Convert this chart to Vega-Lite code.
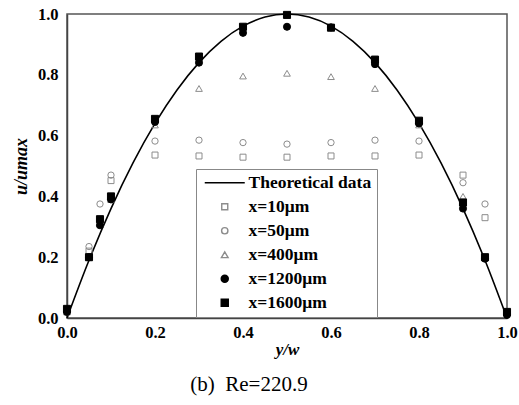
{
  "$schema": "https://vega.github.io/schema/vega-lite/v6.json",
  "width": 440,
  "height": 304,
  "autosize": {"type": "none"},
  "padding": {"left": 67, "top": 14, "right": 12, "bottom": 87},
  "background": "white",
  "config": {
    "view": {"stroke": "#555", "strokeWidth": 1.5},
    "font": "Liberation Serif"
  },
  "title": {
    "text": "(b)\u00a0\u00a0Re=220.9",
    "orient": "bottom",
    "font": "Liberation Serif",
    "fontSize": 21,
    "fontWeight": "normal",
    "color": "black",
    "offset": 16,
    "anchor": "middle",
    "dx": -38
  },
  "data": {
    "values": [
      {"series": "Theoretical data", "x": 0.0, "y": 0.0},
      {"series": "Theoretical data", "x": 0.05, "y": 0.19},
      {"series": "Theoretical data", "x": 0.1, "y": 0.36},
      {"series": "Theoretical data", "x": 0.15, "y": 0.51},
      {"series": "Theoretical data", "x": 0.2, "y": 0.64},
      {"series": "Theoretical data", "x": 0.25, "y": 0.75},
      {"series": "Theoretical data", "x": 0.3, "y": 0.84},
      {"series": "Theoretical data", "x": 0.35, "y": 0.91},
      {"series": "Theoretical data", "x": 0.4, "y": 0.96},
      {"series": "Theoretical data", "x": 0.45, "y": 0.99},
      {"series": "Theoretical data", "x": 0.5, "y": 1.0},
      {"series": "Theoretical data", "x": 0.55, "y": 0.99},
      {"series": "Theoretical data", "x": 0.6, "y": 0.96},
      {"series": "Theoretical data", "x": 0.65, "y": 0.91},
      {"series": "Theoretical data", "x": 0.7, "y": 0.84},
      {"series": "Theoretical data", "x": 0.75, "y": 0.75},
      {"series": "Theoretical data", "x": 0.8, "y": 0.64},
      {"series": "Theoretical data", "x": 0.85, "y": 0.51},
      {"series": "Theoretical data", "x": 0.9, "y": 0.36},
      {"series": "Theoretical data", "x": 0.95, "y": 0.19},
      {"series": "Theoretical data", "x": 1.0, "y": 0.0},

      {"series": "x=10μm", "x": 0.0, "y": 0.02},
      {"series": "x=10μm", "x": 0.05, "y": 0.22},
      {"series": "x=10μm", "x": 0.075, "y": 0.32},
      {"series": "x=10μm", "x": 0.1, "y": 0.452},
      {"series": "x=10μm", "x": 0.2, "y": 0.536},
      {"series": "x=10μm", "x": 0.3, "y": 0.533},
      {"series": "x=10μm", "x": 0.4, "y": 0.529},
      {"series": "x=10μm", "x": 0.5, "y": 0.529},
      {"series": "x=10μm", "x": 0.6, "y": 0.533},
      {"series": "x=10μm", "x": 0.7, "y": 0.533},
      {"series": "x=10μm", "x": 0.8, "y": 0.536},
      {"series": "x=10μm", "x": 0.9, "y": 0.47},
      {"series": "x=10μm", "x": 0.95, "y": 0.33},
      {"series": "x=10μm", "x": 1.0, "y": 0.02},

      {"series": "x=50μm", "x": 0.0, "y": 0.02},
      {"series": "x=50μm", "x": 0.05, "y": 0.235},
      {"series": "x=50μm", "x": 0.075, "y": 0.375},
      {"series": "x=50μm", "x": 0.1, "y": 0.47},
      {"series": "x=50μm", "x": 0.2, "y": 0.582},
      {"series": "x=50μm", "x": 0.3, "y": 0.585},
      {"series": "x=50μm", "x": 0.4, "y": 0.577},
      {"series": "x=50μm", "x": 0.5, "y": 0.572},
      {"series": "x=50μm", "x": 0.6, "y": 0.577},
      {"series": "x=50μm", "x": 0.7, "y": 0.585},
      {"series": "x=50μm", "x": 0.8, "y": 0.582},
      {"series": "x=50μm", "x": 0.9, "y": 0.445},
      {"series": "x=50μm", "x": 0.95, "y": 0.375},
      {"series": "x=50μm", "x": 1.0, "y": 0.02},

      {"series": "x=400μm", "x": 0.0, "y": 0.02},
      {"series": "x=400μm", "x": 0.05, "y": 0.2},
      {"series": "x=400μm", "x": 0.075, "y": 0.31},
      {"series": "x=400μm", "x": 0.1, "y": 0.39},
      {"series": "x=400μm", "x": 0.2, "y": 0.635},
      {"series": "x=400μm", "x": 0.3, "y": 0.755},
      {"series": "x=400μm", "x": 0.4, "y": 0.796},
      {"series": "x=400μm", "x": 0.5, "y": 0.805},
      {"series": "x=400μm", "x": 0.6, "y": 0.794},
      {"series": "x=400μm", "x": 0.7, "y": 0.755},
      {"series": "x=400μm", "x": 0.8, "y": 0.635},
      {"series": "x=400μm", "x": 0.9, "y": 0.4},
      {"series": "x=400μm", "x": 0.95, "y": 0.2},
      {"series": "x=400μm", "x": 1.0, "y": 0.02},

      {"series": "x=1200μm", "x": 0.0, "y": 0.02},
      {"series": "x=1200μm", "x": 0.05, "y": 0.2},
      {"series": "x=1200μm", "x": 0.075, "y": 0.305},
      {"series": "x=1200μm", "x": 0.1, "y": 0.39},
      {"series": "x=1200μm", "x": 0.2, "y": 0.645},
      {"series": "x=1200μm", "x": 0.3, "y": 0.84},
      {"series": "x=1200μm", "x": 0.4, "y": 0.938},
      {"series": "x=1200μm", "x": 0.5, "y": 0.958},
      {"series": "x=1200μm", "x": 0.6, "y": 0.956},
      {"series": "x=1200μm", "x": 0.7, "y": 0.835},
      {"series": "x=1200μm", "x": 0.8, "y": 0.64},
      {"series": "x=1200μm", "x": 0.9, "y": 0.36},
      {"series": "x=1200μm", "x": 0.95, "y": 0.195},
      {"series": "x=1200μm", "x": 1.0, "y": 0.01},

      {"series": "x=1600μm", "x": 0.0, "y": 0.03},
      {"series": "x=1600μm", "x": 0.05, "y": 0.2},
      {"series": "x=1600μm", "x": 0.075, "y": 0.325},
      {"series": "x=1600μm", "x": 0.1, "y": 0.4},
      {"series": "x=1600μm", "x": 0.2, "y": 0.655},
      {"series": "x=1600μm", "x": 0.3, "y": 0.86},
      {"series": "x=1600μm", "x": 0.4, "y": 0.958},
      {"series": "x=1600μm", "x": 0.5, "y": 0.997},
      {"series": "x=1600μm", "x": 0.6, "y": 0.955},
      {"series": "x=1600μm", "x": 0.7, "y": 0.85},
      {"series": "x=1600μm", "x": 0.8, "y": 0.649},
      {"series": "x=1600μm", "x": 0.9, "y": 0.38},
      {"series": "x=1600μm", "x": 0.95, "y": 0.2},
      {"series": "x=1600μm", "x": 1.0, "y": 0.02}
    ]
  },
  "encoding": {
    "x": {
      "field": "x",
      "type": "quantitative",
      "scale": {"domain": [0, 1], "nice": false, "zero": false},
      "axis": {
        "title": "y/w",
        "titleFont": "Liberation Serif",
        "titleFontStyle": "italic",
        "titleFontWeight": "bold",
        "titleFontSize": 17,
        "titleColor": "black",
        "titlePadding": 1,
        "values": [0, 0.1, 0.2, 0.3, 0.4, 0.5, 0.6, 0.7, 0.8, 0.9, 1.0],
        "labelExpr": "round(datum.value*10) % 2 == 0 ? format(datum.value, '.1f') : ''",
        "labelFont": "Liberation Serif",
        "labelFontWeight": "bold",
        "labelFontSize": 16.5,
        "labelColor": "black",
        "labelPadding": 6,
        "labelFlush": false,
        "tickSize": 0,
        "grid": false,
        "domainColor": "#444",
        "domainWidth": 1.5,
        "tickColor": "#333",
        "encode": {
          "ticks": {"update": {"y2": {"signal": "round(datum.value*10) % 2 == 0 ? -6 : -3"}, "strokeWidth": {"value": 1}}}
        }
      }
    },
    "y": {
      "field": "y",
      "type": "quantitative",
      "scale": {"domain": [0, 1], "nice": false, "zero": false},
      "axis": {
        "title": "u/umax",
        "titleFont": "Liberation Serif",
        "titleFontStyle": "italic",
        "titleFontWeight": "bold",
        "titleFontSize": 18,
        "titleColor": "black",
        "titlePadding": 7,
        "values": [0, 0.1, 0.2, 0.3, 0.4, 0.5, 0.6, 0.7, 0.8, 0.9, 1.0],
        "labelExpr": "round(datum.value*10) % 2 == 0 ? format(datum.value, '.1f') : ''",
        "labelFont": "Liberation Serif",
        "labelFontWeight": "bold",
        "labelFontSize": 16.5,
        "labelColor": "black",
        "labelPadding": 9,
        "labelFlush": false,
        "tickSize": 0,
        "grid": false,
        "domainColor": "#444",
        "domainWidth": 1.5,
        "tickColor": "#333",
        "encode": {
          "ticks": {"update": {"x2": {"signal": "round(datum.value*10) % 2 == 0 ? 6 : 3"}, "strokeWidth": {"value": 1}}}
        }
      }
    }
  },
  "layer": [
    {
      "transform": [{"filter": "datum.series === 'Theoretical data'"}],
      "mark": {"type": "line", "color": "black", "strokeWidth": 1.6, "interpolate": "monotone"},
      "encoding": {}
    },
    {
      "transform": [{"filter": "datum.series !== 'Theoretical data'"}],
      "mark": {"type": "point", "opacity": 1, "strokeWidth": 1},
      "encoding": {
        "shape": {
          "field": "series",
          "type": "nominal",
          "scale": {
            "domain": ["Theoretical data", "x=10μm", "x=50μm", "x=400μm", "x=1200μm", "x=1600μm"],
            "range": ["M-4,0L4,0", "square", "circle", "triangle-up", "circle", "square"]
          },
          "legend": {
            "title": null,
            "orient": "none",
            "legendX": 129,
            "legendY": 155,
            "padding": 5,
            "strokeColor": "#888",
            "fillColor": "white",
            "labelFont": "Liberation Serif",
            "labelFontWeight": "bold",
            "labelFontSize": 17.5,
            "labelColor": "black",
            "symbolOffset": 15,
            "labelOffset": 15,
            "rowPadding": 5,
            "symbolStrokeWidth": 1.4
          }
        },
        "size": {
          "field": "series",
          "type": "nominal",
          "scale": {
            "type": "ordinal",
            "domain": ["Theoretical data", "x=10μm", "x=50μm", "x=400μm", "x=1200μm", "x=1600μm"],
            "range": [100, 36, 40, 45, 50, 50]
          }
        },
        "fill": {
          "field": "series",
          "type": "nominal",
          "scale": {
            "domain": ["Theoretical data", "x=10μm", "x=50μm", "x=400μm", "x=1200μm", "x=1600μm"],
            "range": ["black", "transparent", "transparent", "transparent", "black", "black"]
          }
        },
        "stroke": {
          "field": "series",
          "type": "nominal",
          "scale": {
            "domain": ["Theoretical data", "x=10μm", "x=50μm", "x=400μm", "x=1200μm", "x=1600μm"],
            "range": ["black", "#8c8c8c", "#8c8c8c", "#8c8c8c", "black", "black"]
          }
        }
      }
    }
  ]
}
